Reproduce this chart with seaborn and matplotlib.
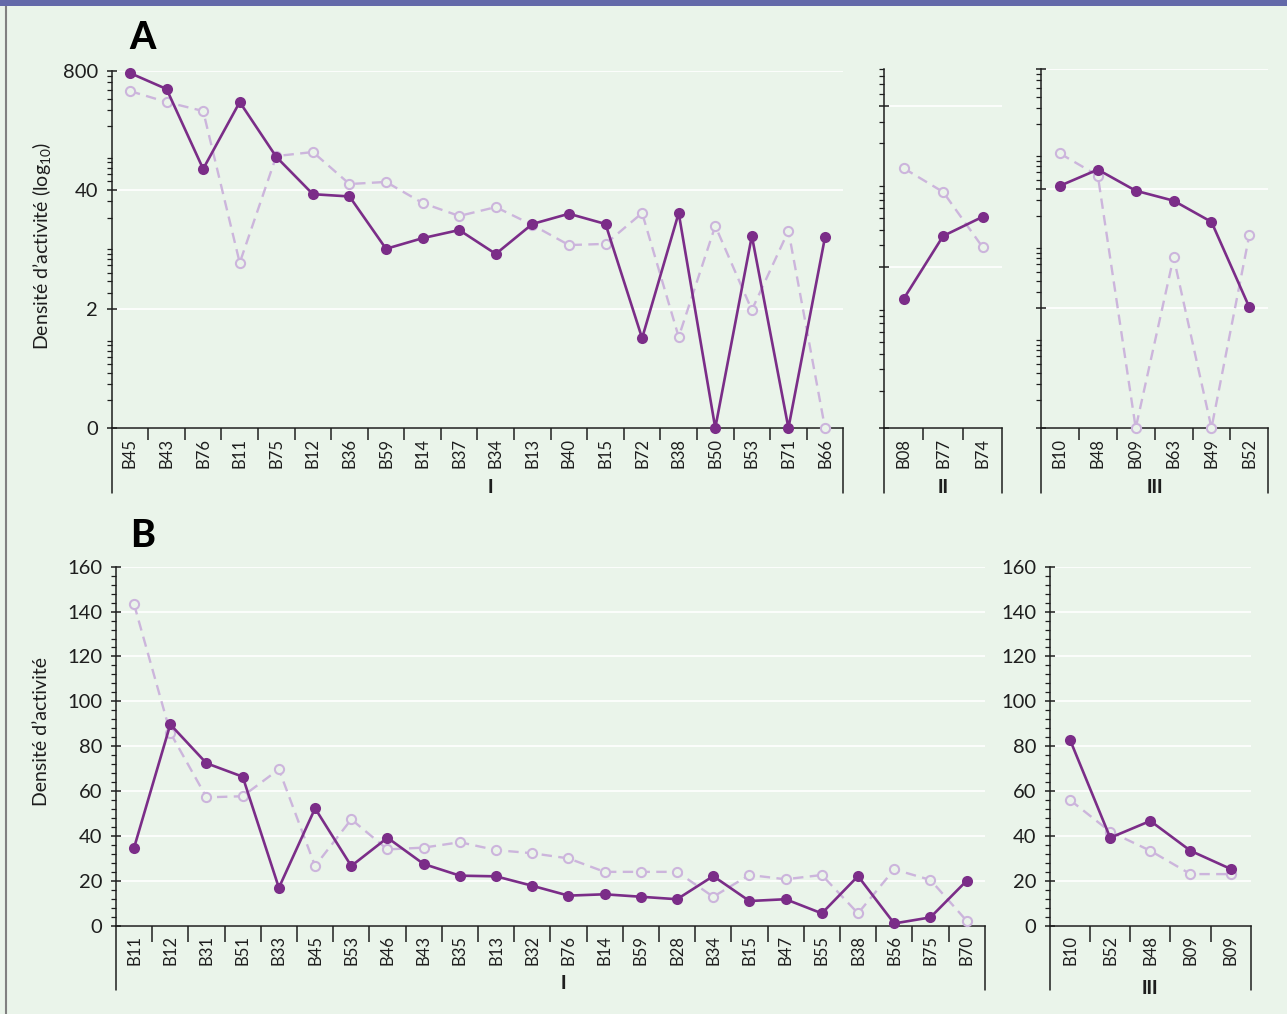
import numpy as np
import matplotlib
matplotlib.use("Agg")
import matplotlib.pyplot as plt
import seaborn as sns
from matplotlib.ticker import FixedLocator, FixedFormatter, LogLocator, MultipleLocator, NullFormatter
from matplotlib.patches import Rectangle
from matplotlib.lines import Line2D

# ---------------- data ----------------
a1_cats = ["B45", "B43", "B76", "B11", "B75", "B12", "B36", "B59", "B14", "B37",
           "B34", "B13", "B40", "B15", "B72", "B38", "B50", "B53", "B71", "B66"]
a1_solid = [760, 508, 68, 366, 92, 36, 34, 9.1, 11.9, 14.6,
            8.0, 17, 22, 17, 0.96, 22.4, 0.1, 12.6, 0.1, 12.2]
a1_dashed = [483, 366, 292, 6.4, 94, 104, 46.5, 49, 28.8, 20.8,
             26, 16.6, 10, 10.3, 22.4, 0.99, 16.2, 1.95, 14.3, 0.1]

a2_cats = ["B08", "B77", "B74"]
a2_solid = [1.11, 3.57, 5.1]
a2_dashed = [12.6, 8.1, 2.9]

a3_cats = ["B10", "B48", "B09", "B63", "B49", "B52"]
a3_solid = [43, 64.5, 38, 29.6, 17.4, 2.05]
a3_dashed = [96.5, 55.5, 0.1, 7.2, 0.1, 12.6]

b1_cats = ["B11", "B12", "B31", "B51", "B33", "B45", "B53", "B46", "B43", "B35", "B13", "B32",
           "B76", "B14", "B59", "B28", "B34", "B15", "B47", "B55", "B38", "B56", "B75", "B70"]
b1_solid = [34.8, 89.7, 72.4, 66.4, 16.9, 52.3, 26.6, 39.2, 27.5, 22.3, 22, 17.8,
            13.4, 14, 12.9, 11.8, 22.1, 11, 11.8, 5.5, 22.1, 1.0, 3.7, 20]
b1_dashed = [143.2, 86, 57.2, 57.7, 69.7, 26.6, 47.4, 34, 34.8, 37.2, 33.7, 32.3,
             30, 24, 24, 24, 12.9, 22.6, 20.7, 22.6, 5.5, 25.1, 20.4, 2.2]

b3_cats = ["B10", "B52", "B48", "B09", "B09"]
b3_solid = [82.8, 39.2, 46.7, 33.4, 25.3]
b3_dashed = [56, 41.9, 33.4, 23, 23]

a_ticks = [0.1, 2, 40, 800]
a_ticklabels = ["0", "2", "40", "800"]
a2_ticks = [0.1, 2, 40]
b_ticks = [0, 20, 40, 60, 80, 100, 120, 140, 160]

# ---------------- style ----------------
BG = "#EAF4EA"
DARK = "#7B2D88"
LIGHT = "#CCB5DC"
INK = "#1e1e1e"

sns.set_style("ticks")
plt.rcParams["font.family"] = ["Lato", "DejaVu Sans"]
plt.rcParams["mathtext.fontset"] = "custom"
plt.rcParams["mathtext.rm"] = "Lato"
plt.rcParams["mathtext.it"] = "Lato"

W, H = 1287, 1014
fig = plt.figure(figsize=(W / 100, H / 100), dpi=100, facecolor=BG)


def px_axes(left, right, top, bottom):
    return fig.add_axes([left / W, 1 - bottom / H, (right - left) / W, (bottom - top) / H])


def draw(ax, cats, solid, dashed):
    x = np.arange(len(cats))
    sns.lineplot(x=x, y=dashed, ax=ax, color=LIGHT, linewidth=1.7,
                 linestyle=(0, (4.4, 2.7)), marker="o", markersize=6.6,
                 markerfacecolor=BG, markeredgecolor=LIGHT, markeredgewidth=1.5,
                 estimator=None, sort=False, clip_on=False, zorder=3)
    sns.lineplot(x=x, y=solid, ax=ax, color=DARK, linewidth=1.9,
                 marker="o", markersize=8, markerfacecolor=DARK,
                 markeredgecolor=DARK, markeredgewidth=0,
                 estimator=None, sort=False, clip_on=False, zorder=4)


def style_x(ax, cats, height_px, ext_px, tick_px, group, gx, gy_px):
    n = len(cats)
    ax.set_facecolor(BG)
    ax.set_xlim(-0.5, n - 0.5)
    ax.set_xticks(np.arange(n))
    ax.set_xticklabels(cats, rotation=90, fontsize=12, color=INK)
    ax.tick_params(axis="x", which="major", length=0, pad=7)
    ax.xaxis.set_minor_locator(FixedLocator(np.arange(n - 1) + 0.5))
    ax.tick_params(axis="x", which="minor", length=tick_px * 0.72, width=1.1,
                   direction="out", color=INK)
    for s in ["top", "right"]:
        ax.spines[s].set_visible(False)
    for s in ["left", "bottom"]:
        ax.spines[s].set_color(INK)
        ax.spines[s].set_linewidth(1.1)
    ext = ext_px / height_px
    for xv in (0, 1):
        ax.add_line(Line2D([xv, xv], [0, -ext], transform=ax.transAxes,
                           color=INK, lw=1.1, clip_on=False))
    ax.text(gx, -gy_px / height_px, group, transform=ax.transAxes, ha="center",
            va="center", fontsize=13, fontweight="black", color=INK)
    ax.set_xlabel("")
    ax.set_ylabel("")


def style_y(ax, show_labels):
    ax.tick_params(axis="y", which="major", direction="inout", length=7.7,
                   width=1.1, color=INK, labelsize=14.5, labelcolor=INK, pad=6,
                   labelleft=show_labels)
    ax.tick_params(axis="y", which="minor", direction="out", length=3.6,
                   width=0.9, color=INK)
    ax.grid(axis="y", which="major", color="white", linewidth=1.2, zorder=0)
    ax.grid(axis="y", which="minor", visible=False)
    ax.grid(axis="x", visible=False)
    ax.set_axisbelow(True)


# ---------------- panel A ----------------
A_TOP, A_BOT = 71, 428
hA = A_BOT - A_TOP
axA1 = px_axes(111.7, 843.3, A_TOP, A_BOT)
axA2 = px_axes(884, 1002.3, 69, A_BOT)
axA3 = px_axes(1041, 1268.3, 69, A_BOT)

for ax, cats, s, d, top in [(axA1, a1_cats, a1_solid, a1_dashed, 800),
                            (axA2, a2_cats, a2_solid, a2_dashed, 80),
                            (axA3, a3_cats, a3_solid, a3_dashed, 800)]:
    ax.set_yscale("log")
    ax.set_ylim(0.1, top)
    draw(ax, cats, s, d)
    ax.set_ylim(0.1, top)
    ax.yaxis.set_minor_locator(LogLocator(base=10, subs=np.arange(2, 10), numticks=20))
    ax.yaxis.set_minor_formatter(NullFormatter())

axA1.yaxis.set_major_locator(FixedLocator(a_ticks))
axA1.yaxis.set_major_formatter(FixedFormatter(a_ticklabels))
axA2.yaxis.set_major_locator(FixedLocator(a2_ticks))
axA2.yaxis.set_major_formatter(NullFormatter())
axA3.yaxis.set_major_locator(FixedLocator(a_ticks))
axA3.yaxis.set_major_formatter(NullFormatter())

style_x(axA1, a1_cats, hA, 65, 12, "I", 0.517, 60)
style_x(axA2, a2_cats, 359, 65, 12, "II", 0.5, 60)
style_x(axA3, a3_cats, 359, 65, 12, "III", 0.5, 60)
style_y(axA1, True)
style_y(axA2, False)
style_y(axA3, False)

# ---------------- panel B ----------------
B_TOP, B_BOT = 566.7, 925.7
hB = B_BOT - B_TOP
axB1 = px_axes(116, 984.7, B_TOP, B_BOT)
axB3 = px_axes(1050, 1250.7, B_TOP, B_BOT)
for ax, cats, s, d, grp, gx, gy in [(axB1, b1_cats, b1_solid, b1_dashed, "I", 0.515, 58),
                                    (axB3, b3_cats, b3_solid, b3_dashed, "III", 0.5, 63)]:
    draw(ax, cats, s, d)
    ax.set_ylim(0, 160)
    ax.yaxis.set_major_locator(FixedLocator(b_ticks))
    ax.yaxis.set_minor_locator(MultipleLocator(4))
    style_x(ax, cats, hB, 64, 16, grp, gx, gy)
    style_y(ax, True)

# ---------------- texts & frame ----------------
fig.text(42 / W, 1 - 246 / H, "Densité d’activité (log$_{10}$)", rotation=90,
         ha="center", va="center", fontsize=14, color=INK)
fig.text(42 / W, 1 - 731 / H, "Densité d’activité", rotation=90,
         ha="center", va="center", fontsize=14, color=INK)
fig.text(129 / W, 1 - 38 / H, "A", ha="left", va="center", fontsize=27,
         fontweight="black", color="black")
fig.text(130 / W, 1 - 536 / H, "B", ha="left", va="center", fontsize=27,
         fontweight="black", color="black")

fig.patches.append(Rectangle((0, 1 - 5.7 / H), 1, 5.7 / H, transform=fig.transFigure,
                             facecolor="#6369A9", edgecolor="none", zorder=10))
fig.lines.append(Line2D([6 / W, 6 / W], [0, 1 - 5.7 / H], transform=fig.transFigure,
                        color="#808080", lw=1.5))

fig.savefig("out.png", dpi=100, facecolor=BG)
